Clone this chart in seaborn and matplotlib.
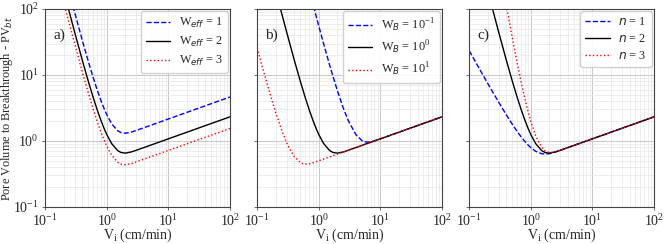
import matplotlib
matplotlib.use("Agg")
import matplotlib.pyplot as plt
import numpy as np
import pandas as pd
import seaborn as sns

# injection rate grid (cm/min) and pore volumes
vi_main = [0.1, 0.15, 0.2, 0.25, 0.3, 0.4, 0.5, 0.6, 0.7, 0.8, 0.9, 1.0, 1.2,
           1.5, 1.7, 2, 2.5, 3, 5, 10, 20, 50, 100]

# panel a: W_eff
pv_weff1 = [4689, 1073, 380.4, 171.6, 90.36, 33.70, 16.22, 9.228, 5.917, 4.154, 3.133,
            2.503, 1.825, 1.430, 1.338, 1.307, 1.3625, 1.443, 1.710, 2.154, 2.714, 3.684, 4.642]
pv_weff2 = [2345, 536.5, 190.2, 85.8, 45.18, 16.85, 8.11, 4.614, 2.959, 2.077, 1.567,
            1.2515, 0.9125, 0.715, 0.669, 0.6537, 0.6813, 0.7213, 0.855, 1.077, 1.357, 1.842, 2.321]
pv_weff3 = [1563, 357.7, 126.8, 57.2, 30.12, 11.23, 5.407, 3.076, 1.972, 1.385, 1.044,
            0.8343, 0.6083, 0.4767, 0.446, 0.4358, 0.4542, 0.4809, 0.570, 0.718, 0.9048, 1.228, 1.547]

# panel b: W_B
vi_wb01 = [0.7, 0.8, 0.9, 1.0, 1.2, 1.5, 2, 2.5, 3, 4, 5, 5.5, 6, 7, 8, 10, 20, 50, 100]
pv_wb01 = [194.1, 120.7, 79.8, 55.2, 29.54, 14.10, 5.796, 3.142, 2.048, 1.246, 1.015,
           0.975, 0.960, 0.971, 1.003, 1.077, 1.357, 1.842, 2.321]
pv_wb1 = pv_weff2
vi_wb10 = [0.1, 0.12, 0.15, 0.2, 0.25, 0.3, 0.35, 0.4, 0.5, 0.55, 0.6, 0.7, 0.8, 1.0,
           1.5, 2, 5, 10, 20, 50, 100]
pv_wb10 = [25.63, 13.71, 6.544, 2.690, 1.458, 0.9504, 0.7064, 0.5784, 0.4710, 0.4525,
           0.4457, 0.4506, 0.4657, 0.5000, 0.5724, 0.630, 0.855, 1.077, 1.357, 1.842, 2.321]

# panel c: exponent n
pv_n1 = [23.33, 11.94, 7.457, 5.199, 3.889, 2.492, 1.794, 1.395, 1.146, 0.9819, 0.8696,
         0.7910, 0.6963, 0.6398, 0.6319, 0.6417, 0.6799, 0.7212, 0.855, 1.077, 1.357, 1.842, 2.321]
pv_n2 = pv_weff2
vi_n3 = [0.4, 0.45, 0.5, 0.55, 0.6, 0.7, 0.8, 0.9, 1.0, 1.2, 1.5, 1.7, 2, 2.5, 3, 5,
         10, 20, 50, 100]
pv_n3 = [114, 62.2, 36.67, 23.03, 15.26, 7.637, 4.394, 2.822, 1.980, 1.196, 0.7994,
         0.7084, 0.6659, 0.6826, 0.7214, 0.855, 1.077, 1.357, 1.842, 2.321]

sns.set_theme(style="ticks")
plt.rcParams["font.family"] = ["Liberation Serif", "DejaVu Serif"]
plt.rcParams["mathtext.fontset"] = "custom"
plt.rcParams["mathtext.rm"] = "Liberation Serif"
plt.rcParams["mathtext.it"] = "DejaVu Sans:italic"
plt.rcParams["mathtext.bf"] = "Liberation Serif:bold"

styles = [("blue", "--"), ("black", "-"), ("red", ":")]

panels = [
    ("a)", [(vi_main, pv_weff1, r"W$_{eff}$ = 1"),
            (vi_main, pv_weff2, r"W$_{eff}$ = 2"),
            (vi_main, pv_weff3, r"W$_{eff}$ = 3")]),
    ("b)", [(vi_wb01, pv_wb01, r"W$_B$ = $10^{-1}$"),
            (vi_main, pv_wb1, r"W$_B$ = $10^{0}$"),
            (vi_wb10, pv_wb10, r"W$_B$ = $10^{1}$")]),
    ("c)", [(vi_main, pv_n1, r"$n$ = 1"),
            (vi_main, pv_n2, r"$n$ = 2"),
            (vi_n3, pv_n3, r"$n$ = 3")]),
]

fig, axes = plt.subplots(1, 3, figsize=(6.64, 2.44), dpi=100, sharey=True)
fig.subplots_adjust(left=0.068, right=0.985, bottom=0.152, top=0.963, wspace=0.147)

for ax, (tag, curves) in zip(axes, panels):
    for (x, y, lab), (col, ls) in zip(curves, styles):
        df = pd.DataFrame({"vi": x, "pv": y})
        sns.lineplot(data=df, x="vi", y="pv", ax=ax, color=col, linestyle=ls,
                     linewidth=1.0, label=lab)
    ax.set_xscale("log")
    ax.set_yscale("log")
    ax.set_xlim(0.1, 100)
    ax.set_ylim(0.1, 100)
    ax.grid(True, which="major", color="#c8c8c8", linewidth=0.7)
    ax.grid(True, which="minor", color="#e6e6e6", linewidth=0.5)
    ax.set_axisbelow(True)
    ax.tick_params(labelsize=10, length=2.5, width=0.6, pad=2, color="#555555")
    ax.tick_params(which="minor", length=0)
    for sp in ax.spines.values():
        sp.set_color("#444444")
        sp.set_linewidth(0.8)
    ax.set_xlabel(r"V$_\mathrm{i}$ (cm/min)", fontsize=10, labelpad=-1.5)
    ax.set_ylabel("")
    ax.text(0.045, 0.85, tag, transform=ax.transAxes, fontsize=11)
    ax.legend(loc="upper right", fontsize=8.8, handlelength=2.0, handletextpad=0.7,
              borderaxespad=0.2, framealpha=0.9, labelspacing=0.4)

axes[0].set_ylabel(r"Pore Volume to Breakthrough - PV$_{bt}$", fontsize=8.8)
axes[0].yaxis.set_label_coords(-0.165, 0.495)

plt.savefig("out.png", dpi=100)
plt.close()
